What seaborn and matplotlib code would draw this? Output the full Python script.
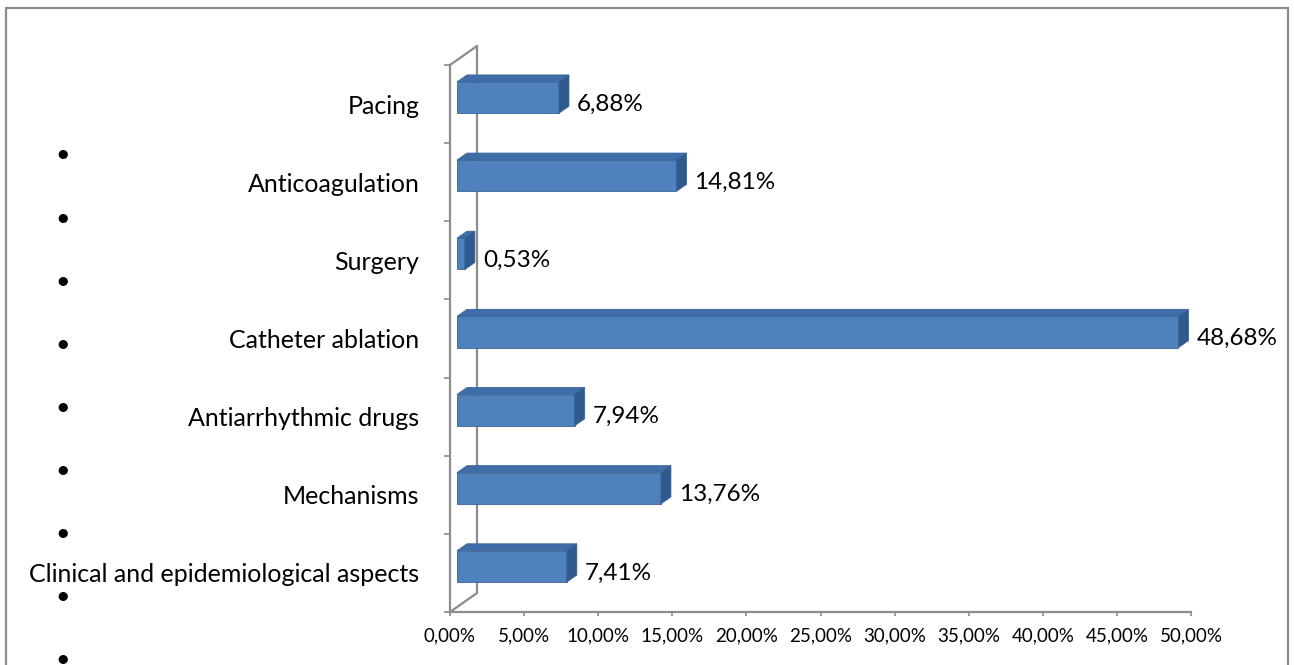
import matplotlib

matplotlib.use("Agg")

import matplotlib.pyplot as plt
import matplotlib.transforms as mtransforms
import numpy as np
import pandas as pd
import seaborn as sns
from matplotlib.patches import Polygon, Rectangle


CATEGORIES = [
    "Pacing",
    "Anticoagulation",
    "Surgery",
    "Catheter ablation",
    "Antiarrhythmic drugs",
    "Mechanisms",
    "Clinical and epidemiological aspects",
]
VALUES = [6.88, 14.81, 0.53, 48.68, 7.94, 13.76, 7.41]
X_TICKS = [0, 5, 10, 15, 20, 25, 30, 35, 40, 45, 50]
N_BULLETS = 9

FRONT = "#4F81BD"
TOP = "#3E6DA8"
SIDE = "#2E5A8E"
EDGE = "#3A6398"
GRAY = "#8C8C8C"

W, H, DPI = 1294, 665, 100


def pct(v):
    return f"{v:.2f}%".replace(".", ",")


sns.set_theme(style="white")
plt.rcParams["font.family"] = ["Lato", "DejaVu Sans"]
plt.rcParams["text.color"] = "black"
plt.rcParams["xtick.labelcolor"] = "black"
plt.rcParams["ytick.labelcolor"] = "black"

df = pd.DataFrame({"category": CATEGORIES, "value": VALUES})

fig = plt.figure(figsize=(W / DPI, H / DPI), dpi=DPI)
ax = fig.add_axes([450 / W, 1 - 612 / H, 741 / W, 547 / H])

sns.barplot(
    data=df, y="category", x="value", orient="h", color=FRONT,
    saturation=1, width=0.4, ax=ax, edgecolor=EDGE, linewidth=0.6,
)
ax.set_xlim(0, 50)
ax.set_ylim(len(CATEGORIES) - 0.5, -0.5)

# 3D look: push bars a bit right/up, then add top and side faces
front_shift = mtransforms.ScaledTranslation(7 / DPI, 6.5 / DPI, fig.dpi_scale_trans)
bar_trans = ax.transData + front_shift
inv = ax.transData.inverted()
origin = ax.transData.transform((0, 0))
ddx, ddy = inv.transform(origin + np.array([10, 7])) - inv.transform(origin)

for patch in ax.patches:
    patch.set_transform(bar_trans)
    x0, y0 = patch.get_x(), patch.get_y()
    w, h = patch.get_width(), patch.get_height()
    x1, y1 = x0 + w, y0 + h
    top = [(x0, y0), (x1, y0), (x1 + ddx, y0 + ddy), (x0 + ddx, y0 + ddy)]
    side = [(x1, y0), (x1, y1), (x1 + ddx, y1 + ddy), (x1 + ddx, y0 + ddy)]
    for pts, col in ((top, TOP), (side, SIDE)):
        ax.add_patch(Polygon(pts, closed=True, facecolor=col, edgecolor=EDGE,
                             linewidth=0.6, transform=bar_trans, clip_on=False))

ax.bar_label(ax.containers[0], labels=[pct(v) for v in VALUES],
             padding=25 * 0.72, fontsize=17.5, color="black")

# back wall of the 3D plot area
wall = np.array([27, 19])
corner_top = ax.transData.transform((0, -0.5))
corner_bot = ax.transData.transform((0, len(CATEGORIES) - 0.5))
wt = inv.transform(corner_top + wall)
wb = inv.transform(corner_bot + wall)
for xs, ys in (
    ([0, wt[0]], [-0.5, wt[1]]),
    ([wt[0], wb[0]], [wt[1], wb[1]]),
    ([wb[0], 0], [wb[1], len(CATEGORIES) - 0.5]),
):
    ax.plot(xs, ys, color=GRAY, lw=1.6, clip_on=False, zorder=0.5)

for side in ("top", "right"):
    ax.spines[side].set_visible(False)
for side in ("left", "bottom"):
    ax.spines[side].set_color(GRAY)
    ax.spines[side].set_linewidth(1.6)

ax.set_xticks(X_TICKS)
ax.set_xticklabels([pct(t) for t in X_TICKS])
ax.tick_params(axis="x", direction="out", length=3, width=1.2, color=GRAY,
               labelsize=13.5, pad=8, bottom=True)
ax.set_yticks(range(len(CATEGORIES)))
ax.set_yticklabels(CATEGORIES)
ax.set_yticks(np.arange(-0.5, len(CATEGORIES)), minor=True)
ax.tick_params(axis="y", which="major", length=0, labelsize=18, pad=22)
ax.tick_params(axis="y", which="minor", direction="out", length=4.5,
               width=1.2, color=GRAY, left=True)
ax.set_xlabel("")
ax.set_ylabel("")

# stray bullets down the left margin
for yb in np.linspace(155, 660, N_BULLETS):
    fig.text(63 / W, 1 - yb / H, "\u2022", ha="center", va="center",
             fontsize=18, color="black")

fig.patches.append(Rectangle((6 / W, -0.05), 1282 / W, 1.05 - 8 / H,
                             transform=fig.transFigure, fill=False,
                             edgecolor=GRAY, linewidth=1.6))

fig.savefig("out.png", dpi=DPI)
